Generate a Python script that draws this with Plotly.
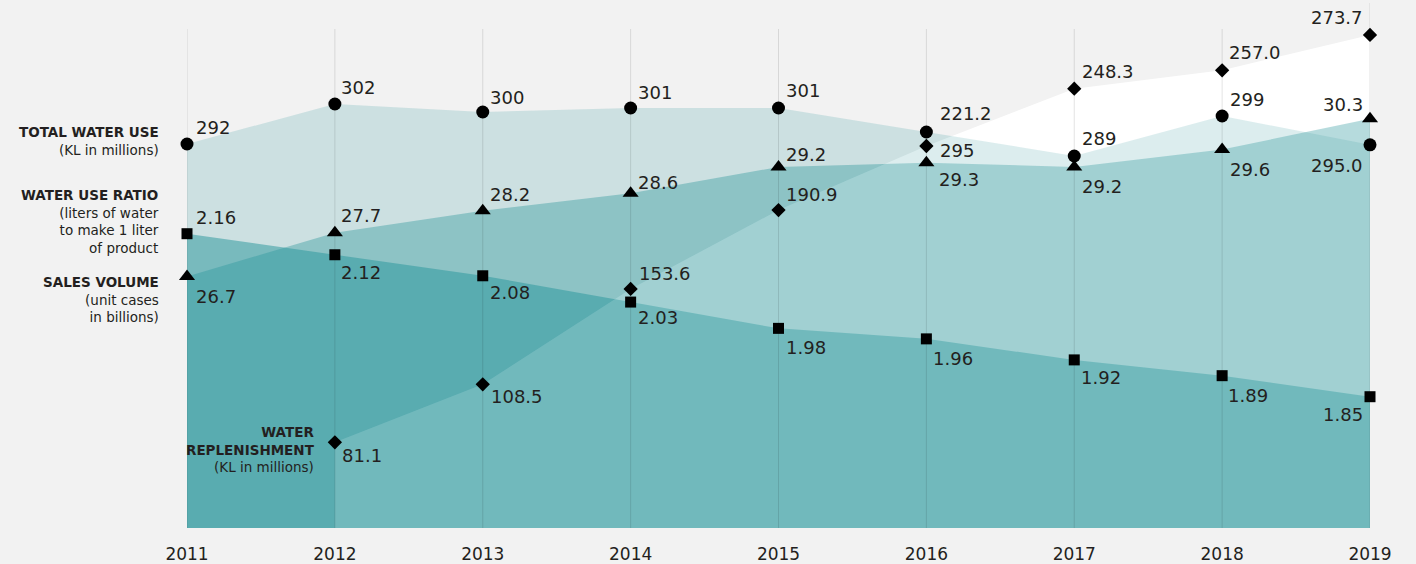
import plotly.graph_objects as go

# ---------------- data ----------------
years = [2011, 2012, 2013, 2014, 2015, 2016, 2017, 2018, 2019]
total_water_use = [292, 302, 300, 301, 301, 295, 289, 299, 291.8]          # KL in millions (as plotted)
total_water_use_labels = ["292", "302", "300", "301", "301", "295", "289", "299", "295.0"]
sales_volume = [26.7, 27.7, 28.2, 28.6, 29.2, 29.3, 29.2, 29.6, 30.3]      # unit cases in billions
water_use_ratio = [2.16, 2.12, 2.08, 2.03, 1.98, 1.96, 1.92, 1.89, 1.85]   # liters / liter
replenishment_years = [2012, 2013, 2014, 2015, 2016, 2017, 2018, 2019]
water_replenishment = [81.1, 108.5, 153.6, 190.9, 221.2, 248.3, 257.0, 273.7]  # KL in millions

sales_labels = [f"{v:.1f}" for v in sales_volume]
ratio_labels = [f"{v:.2f}" for v in water_use_ratio]
repl_labels = [f"{v:.1f}" for v in water_replenishment]

# ---------------- scales (one hidden axis per series) ----------------
range_total = [196, 328]
range_sales = [20.958, 33.013]
range_ratio = [1.6003, 2.6045]
range_repl = [40.58, 290.23]

TEAL = "40,150,155"
TXT = "#231f20"
FONT = "DejaVu Sans"

# label offsets (px right, px down) relative to each marker
off_total = [(9, -17), (6, -17), (7, -15), (7, -16), (7, -18), (14, 18), (8, -18), (8, -17), (-7, 21)]
off_sales = [(9, 19.5), (6, -17), (7, -16), (7, -11), (7, -12.6), (13, 16.5), (8, 19), (8, 20.5), (-7, -14.4)]
off_ratio = [(9, -16), (6, 18), (7, 17), (7.7, 15.7), (7, 19), (7, 20), (7, 17.7), (6, 19.7), (-7, 17.6)]
off_repl = [(7, 12.7), (8, 12.4), (8, -15), (7, -15.7), (14, -33), (7.5, -17.6), (7, -17.7), (-7, -17.7)]

fig = go.Figure()

# 1 replenishment underlay (opaque white)
fig.add_trace(go.Scatter(x=replenishment_years, y=water_replenishment, yaxis="y",
                         mode="none", fill="tozeroy", fillcolor="#ffffff", hoverinfo="skip"))
# 2-4 translucent teal areas
fig.add_trace(go.Scatter(x=years, y=total_water_use, yaxis="y2", mode="none",
                         fill="tozeroy", fillcolor=f"rgba({TEAL},0.19)", hoverinfo="skip"))
fig.add_trace(go.Scatter(x=years, y=sales_volume, yaxis="y3", mode="none",
                         fill="tozeroy", fillcolor=f"rgba({TEAL},0.39)", hoverinfo="skip"))
fig.add_trace(go.Scatter(x=years, y=water_use_ratio, yaxis="y4", mode="none",
                         fill="tozeroy", fillcolor=f"rgba({TEAL},0.515)", hoverinfo="skip"))
# 5 replenishment overlay (light white veil)
fig.add_trace(go.Scatter(x=replenishment_years, y=water_replenishment, yaxis="y5",
                         mode="none", fill="tozeroy", fillcolor="rgba(255,255,255,0.13)", hoverinfo="skip"))
# 6-9 markers
fig.add_trace(go.Scatter(x=years, y=total_water_use, yaxis="y6", mode="markers", cliponaxis=False,
                         marker=dict(symbol="circle", size=13, color="black")))
fig.add_trace(go.Scatter(x=years, y=sales_volume, yaxis="y7", mode="markers", cliponaxis=False,
                         marker=dict(symbol="triangle-up", size=14, color="black")))
fig.add_trace(go.Scatter(x=years, y=water_use_ratio, yaxis="y8", mode="markers", cliponaxis=False,
                         marker=dict(symbol="square", size=11, color="black")))
fig.add_trace(go.Scatter(x=replenishment_years, y=water_replenishment, yaxis="y9", mode="markers",
                         cliponaxis=False, marker=dict(symbol="diamond", size=11, color="black")))

annotations = []


def add_labels(xs, ys, labels, offs, yref):
    for x, y, t, (dx, dy) in zip(xs, ys, labels, offs):
        annotations.append(dict(
            x=x, y=y, xref="x", yref=yref, text=t, showarrow=False,
            xanchor="left" if dx > 0 else "right", yanchor="middle",
            xshift=dx - 2 if dx > 0 else dx + 2, yshift=-dy,
            font=dict(family=FONT, size=18, color=TXT)))


add_labels(years, total_water_use, total_water_use_labels, off_total, "y6")
add_labels(years, sales_volume, sales_labels, off_sales, "y7")
add_labels(years, water_use_ratio, ratio_labels, off_ratio, "y8")
add_labels(replenishment_years, water_replenishment, repl_labels, off_repl, "y9")

PLOT_H = 528.0


def py(pix):
    return (PLOT_H - pix) / PLOT_H


side_labels = [
    ("<b>TOTAL WATER USE</b><br>(KL in millions)", years[0], -26, 140.5),
    ("<b>WATER USE RATIO</b><br>(liters of water<br>to make 1 liter<br>of product", years[0], -26, 221),
    ("<b>SALES VOLUME</b><br>(unit cases<br>in billions)", years[0], -26, 299.3),
    ("<b>WATER<br>REPLENISHMENT</b><br>(KL in millions)", years[1], -18, 449.3),
]
for text, x, xs, ypix in side_labels:
    annotations.append(dict(x=x, y=py(ypix), xref="x", yref="paper", text=text, showarrow=False,
                            xanchor="right", yanchor="middle", align="right", xshift=xs,
                            font=dict(family=FONT, size=13.5, color=TXT)))

shapes = []
for yr in years:
    top = 3 if yr == years[-1] else 29
    shapes.append(dict(type="line", xref="x", yref="paper", x0=yr, x1=yr, y0=0, y1=py(top),
                       line=dict(color="rgba(0,0,0,0.11)", width=1), layer="above"))


def hidden(rng, overlay=True):
    d = dict(range=rng, visible=False, fixedrange=True, showgrid=False, zeroline=False)
    if overlay:
        d["overlaying"] = "y"
        d["anchor"] = "x"
    return d


fig.update_layout(
    width=1416, height=564,
    margin=dict(l=187, r=46, t=0, b=36),
    paper_bgcolor="#f2f2f2", plot_bgcolor="#f2f2f2",
    showlegend=False,
    xaxis=dict(range=[years[0], years[-1]], tickvals=years, ticktext=[str(y) for y in years],
               showgrid=False, zeroline=False, showline=False, ticks="",
               ticklabelstandoff=14, tickfont=dict(family=FONT, size=17, color=TXT), fixedrange=True),
    yaxis=hidden(range_repl, overlay=False),
    yaxis2=hidden(range_total),
    yaxis3=hidden(range_sales),
    yaxis4=hidden(range_ratio),
    yaxis5=hidden(range_repl),
    yaxis6=hidden(range_total),
    yaxis7=hidden(range_sales),
    yaxis8=hidden(range_ratio),
    yaxis9=hidden(range_repl),
    annotations=annotations,
    shapes=shapes,
)

fig.write_html(
    "out.html",
    config={"displayModeBar": False},
    post_script="document.body.style.margin='0';document.body.style.background='#f2f2f2';"
                "document.documentElement.style.overflow='hidden';",
)
